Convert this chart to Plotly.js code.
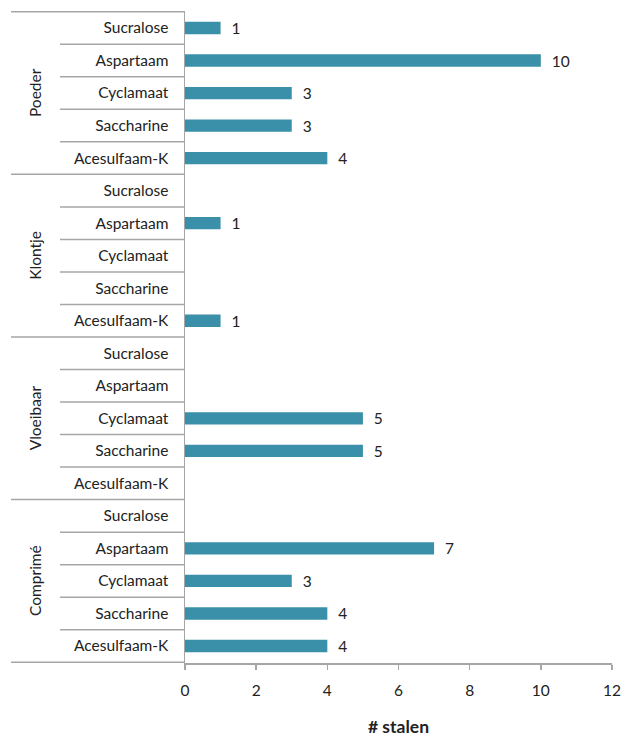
<!DOCTYPE html>
<html>
<head>
<meta charset="utf-8">
<script src="https://cdn.plot.ly/plotly-3.0.1.min.js"></script>
<style>html,body{margin:0;padding:0;background:#fff;}#chart{width:625px;height:737px;}</style>
</head>
<body>
<div id="chart"></div>
<script>
// Groups (top to bottom) and sweeteners within each group (top to bottom)
const groups = ["Poeder", "Klontje", "Vloeibaar", "Comprimé"];
const sweeteners = ["Sucralose", "Aspartaam", "Cyclamaat", "Saccharine", "Acesulfaam-K"];
// # stalen per group, in sweetener order
const poeder    = [1, 10, 3, 3, 4];
const klontje   = [0, 1, 0, 0, 1];
const vloeibaar = [0, 0, 5, 5, 0];
const comprime  = [0, 7, 3, 4, 4];
const xTicks = [0, 2, 4, 6, 8, 10, 12];
const xTitle = "# stalen";

const series = [poeder, klontje, vloeibaar, comprime];
const cats = [], vals = [], labels = [], txt = [];
groups.forEach((g, gi) => {
  sweeteners.forEach((s, si) => {
    cats.push(g + "|" + s);
    labels.push(s);
    const v = series[gi][si];
    vals.push(v);
    txt.push(v > 0 ? String(v) : "");
  });
});

const FONT = "Lato, 'Open Sans', sans-serif";
const FS = 15.5;
const lineCol = "#a6a6a6";
const plotW = 625 - 185 - 13;
const innerX0 = (60 - 185) / plotW;
const outerX0 = (11 - 185) / plotW;
const shapes = [];
for (let k = 0; k <= cats.length; k++) {
  const isGroup = (k % sweeteners.length === 0);
  shapes.push({
    type: "line", xref: "paper", yref: "y",
    x0: isGroup ? outerX0 : innerX0, x1: 0,
    y0: k - 0.5, y1: k - 0.5,
    line: {color: lineCol, width: 1.5}
  });
}
const annotations = groups.map((g, gi) => ({
  text: g, xref: "paper", yref: "y",
  x: (35 - 185) / plotW, y: gi * sweeteners.length + (sweeteners.length - 1) / 2,
  textangle: -90, showarrow: false,
  xanchor: "center", yanchor: "middle",
  font: {family: FONT, size: FS, color: "#222"}
}));

const trace = {
  type: "bar", orientation: "h",
  y: cats, x: vals,
  text: txt, textposition: "outside", cliponaxis: false,
  constraintext: "none",
  texttemplate: "  %{text}",
  textfont: {family: FONT, size: FS, color: "#222"},
  marker: {color: "#3a90a8", line: {width: 0}},
  width: 0.38,
  hoverinfo: "x+y"
};

const layout = {
  width: 625, height: 737,
  margin: {l: 185, r: 13, t: 11, b: 74},
  paper_bgcolor: "#fff", plot_bgcolor: "#fff",
  showlegend: false,
  font: {family: FONT, size: FS, color: "#222"},
  xaxis: {
    range: [0, 12], tickvals: xTicks, ticktext: xTicks.map(String),
    showgrid: false, zeroline: false,
    showline: true, linecolor: lineCol, linewidth: 1.5,
    ticks: "outside", ticklen: 5, tickcolor: lineCol, tickwidth: 1.5,
    ticklabelstandoff: 8,
    tickfont: {size: FS, color: "#222"},
    title: {text: "<b>" + xTitle + "</b>", font: {size: 17.5, color: "#222"}, standoff: 24}
  },
  yaxis: {
    type: "category", autorange: "reversed",
    categoryorder: "array", categoryarray: cats,
    tickmode: "array", tickvals: cats, ticktext: labels,
    showgrid: false, zeroline: false,
    showline: true, linecolor: lineCol, linewidth: 1.5,
    ticks: "", ticklabelstandoff: 12,
    tickfont: {size: FS, color: "#222"}
  },
  shapes: shapes,
  annotations: annotations
};

Plotly.newPlot("chart", [trace], layout, {displayModeBar: false, staticPlot: true});
</script>
</body>
</html>
